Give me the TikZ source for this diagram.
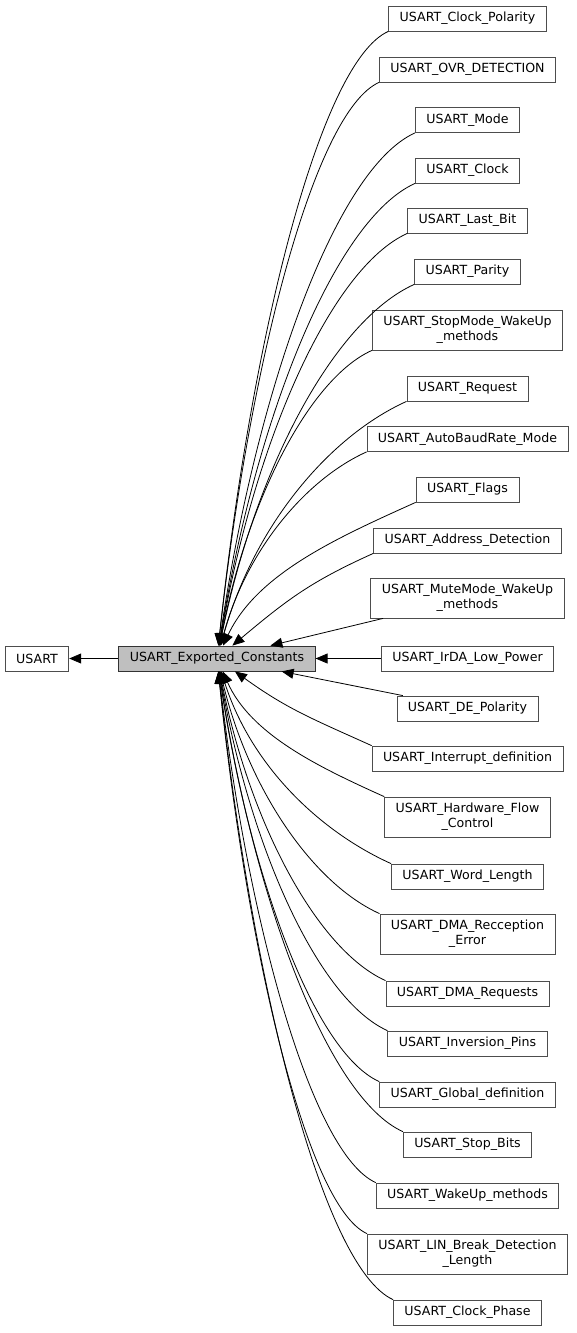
\documentclass[tikz,border=0pt]{standalone}
\usepackage{fontspec}
\setmainfont{DejaVu Sans}
\usetikzlibrary{arrows.meta,calc}
\definecolor{bordergray}{HTML}{4D4D4D}
\definecolor{mainfill}{HTML}{BFBFBF}
\tikzset{
  box/.style={draw=bordergray, line width=0.8pt, fill=white,
    font=\fontsize{12.6}{15}\selectfont, inner xsep=11pt, inner ysep=0pt,
    minimum height=25pt, align=center},
  dbox/.style={box, minimum height=40pt},
  mainbox/.style={box, fill=mainfill, draw=black!80},
  edge/.style={draw=black, line width=0.8pt, {Triangle[length=12pt,width=10pt]}-},
}
% edge from a node above the main node
\newcommand\curveup[2]{%
  \draw[edge] let \p1=(#1.south west), \p3=(ex.north),
    \n1={\x1-\x3}, \n2={\y1-\y3} in
    (ex) .. controls ({\x3+#2*\n1},{\y3+0.5*\n2}) and ({\x1-0.4*\n1},{\y1-0.18*\n1}) .. (#1.south west);}
% edge from a node below the main node
\newcommand\curvedown[2]{%
  \draw[edge] let \p1=(#1.north west), \p3=(ex.south),
    \n1={\x1-\x3}, \n2={\y1-\y3} in
    (ex) .. controls ({\x3+#2*\n1},{\y3+0.5*\n2}) and ({\x1-0.4*\n1},{\y1+0.18*\n1}) .. (#1.north west);}
\begin{document}
\begin{tikzpicture}[x=1pt,y=1pt]
\useasboundingbox (0,0) rectangle (576,-1333);
\node[box] (usart) at (37,-658.5) {USART};
\node[mainbox] (ex) at (217,-658.5) {USART\_Exported\_Constants};

\node[box]  (n1)  at (467.5,-18.5)  {USART\_Clock\_Polarity};
\node[box]  (n2)  at (467.5,-69.5)  {USART\_OVR\_DETECTION};
\node[box]  (n3)  at (467.5,-120)   {USART\_Mode};
\node[box]  (n4)  at (467.5,-170.5) {USART\_Clock};
\node[box]  (n5)  at (467.5,-220.5) {USART\_Last\_Bit};
\node[box]  (n6)  at (467.5,-271.5) {USART\_Parity};
\node[dbox] (n7)  at (467.5,-330)   {USART\_StopMode\_WakeUp\\\_methods};
\node[box]  (n8)  at (467.5,-388.5) {USART\_Request};
\node[box]  (n9)  at (467.5,-439)   {USART\_AutoBaudRate\_Mode};
\node[box]  (n10) at (467.5,-489.5) {USART\_Flags};
\node[box]  (n11) at (467.5,-540.5) {USART\_Address\_Detection};
\node[dbox] (n12) at (467.5,-598)   {USART\_MuteMode\_WakeUp\\\_methods};
\node[box]  (n13) at (467.5,-658.5) {USART\_IrDA\_Low\_Power};
\node[box]  (n14) at (467.5,-708.5) {USART\_DE\_Polarity};
\node[box]  (n15) at (467.5,-758.5) {USART\_Interrupt\_definition};
\node[dbox] (n16) at (467.5,-817)   {USART\_Hardware\_Flow\\\_Control};
\node[box]  (n17) at (467.5,-876.5) {USART\_Word\_Length};
\node[dbox] (n18) at (467.5,-934)   {USART\_DMA\_Recception\\\_Error};
\node[box]  (n19) at (467.5,-993.5) {USART\_DMA\_Requests};
\node[box]  (n20) at (467.5,-1043.5) {USART\_Inversion\_Pins};
\node[box]  (n21) at (467.5,-1094.5) {USART\_Global\_definition};
\node[box]  (n22) at (467.5,-1144.5) {USART\_Stop\_Bits};
\node[box]  (n23) at (467.5,-1195.5) {USART\_WakeUp\_methods};
\node[dbox] (n24) at (467.5,-1254)  {USART\_LIN\_Break\_Detection\\\_Length};
\node[box]  (n25) at (467.5,-1312.5) {USART\_Clock\_Phase};

\draw[edge] (usart) -- (ex);
\foreach \k in {1,...,10} {\curveup{n\k}{0.2}}
\curveup{n11}{0.45}
\draw[edge] (ex) -- (n12);
\draw[edge] (ex) -- (n13);
\draw[edge] (ex) -- (n14);
\curvedown{n15}{0.45}
\foreach \k in {16,...,25} {\curvedown{n\k}{0.2}}
\end{tikzpicture}
\end{document}
